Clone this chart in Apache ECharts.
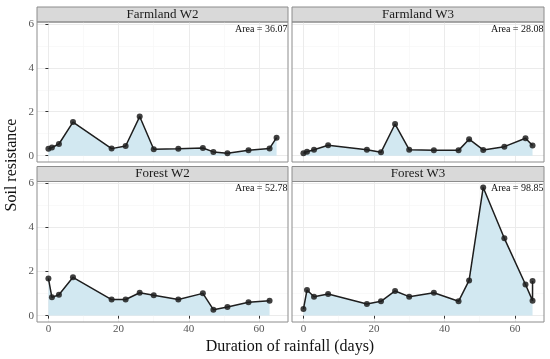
<!DOCTYPE html>
<html>
<head>
<meta charset="utf-8">
<script src="https://cdn.jsdelivr.net/npm/echarts@6/dist/echarts.min.js"></script>
<style>html,body{margin:0;padding:0;background:#fff}#c{width:550px;height:359px}</style>
</head>
<body>
<div id="c"></div>
<script>
// ---- data ----
const panelTitles = ['Farmland W2', 'Farmland W3', 'Forest W2', 'Forest W3'];
const areaLabels = ['Area = 36.07', 'Area = 28.08', 'Area = 52.78', 'Area = 98.85'];
const farmW2Days = [0, 1, 3, 7, 18, 22, 26, 30, 37, 44, 47, 51, 57, 63, 65];
const farmW2Vals = [0.31, 0.37, 0.53, 1.53, 0.32, 0.44, 1.78, 0.29, 0.31, 0.35, 0.17, 0.11, 0.25, 0.33, 0.82];
const farmW3Days = [0, 1, 3, 7, 18, 22, 26, 30, 37, 44, 47, 51, 57, 63, 65];
const farmW3Vals = [0.11, 0.18, 0.27, 0.47, 0.27, 0.15, 1.44, 0.27, 0.24, 0.24, 0.75, 0.26, 0.41, 0.79, 0.46];
const forestW2Days = [0, 1, 3, 7, 18, 22, 26, 30, 37, 44, 47, 51, 57, 63];
const forestW2Vals = [1.69, 0.83, 0.95, 1.74, 0.73, 0.73, 1.04, 0.92, 0.73, 1.01, 0.27, 0.39, 0.61, 0.68];
const forestW3Days = [0, 1, 3, 7, 18, 22, 26, 30, 37, 44, 47, 51, 57, 63, 65, 65];
const forestW3Vals = [0.30, 1.16, 0.86, 0.98, 0.53, 0.65, 1.12, 0.86, 1.04, 0.65, 1.60, 5.82, 3.51, 1.41, 0.68, 1.57];
const xTicks = [0, 20, 40, 60];
const xMinor = [10, 30, 50];
const yTicks = [0, 2, 4, 6];
const yMinor = [1, 3, 5];
const xRange = [-3.25, 68.25];
const yRange = [-0.29, 6.09];

const panelDays = [farmW2Days, farmW3Days, forestW2Days, forestW3Days];
const panelVals = [farmW2Vals, farmW3Vals, forestW2Vals, forestW3Vals];

// ---- layout ----
const grids = [
  {left: 37, top: 22, width: 251, height: 140},
  {left: 292, top: 22, width: 252, height: 140},
  {left: 37, top: 181.5, width: 251, height: 140.5},
  {left: 292, top: 181.5, width: 252, height: 140.5}
];
const FONT = '"Liberation Serif", "Times New Roman", serif';
const MAJ = '#ebebeb', MIN = '#f5f5f5', BORDER = '#8c8c8c';

const xAxes = [], yAxes = [], series = [], graphic = [];
grids.forEach((g, i) => {
  const showX = i >= 2, showY = i % 2 === 0;
  xAxes.push({
    type: 'value', gridIndex: i, min: xRange[0], max: xRange[1],
    axisLine: {show: false},
    axisTick: {show: showX, customValues: xTicks, length: 3, lineStyle: {color: '#333'}},
    axisLabel: {show: showX, customValues: xTicks, color: '#555', fontSize: 11, fontFamily: FONT, margin: 2},
    splitLine: {show: true, lineStyle: {color: MAJ, width: 1}}
  });
  xAxes.push({
    type: 'value', gridIndex: i, min: xRange[0], max: xRange[1], position: 'top',
    axisLine: {show: false},
    axisTick: {show: false, customValues: xMinor},
    axisLabel: {show: false, customValues: xMinor},
    splitLine: {show: true, lineStyle: {color: MIN, width: 0.6}}
  });
  yAxes.push({
    type: 'value', gridIndex: i, min: yRange[0], max: yRange[1],
    axisLine: {show: false},
    axisTick: {show: showY, customValues: yTicks, length: 3, lineStyle: {color: '#333'}},
    axisLabel: {show: showY, customValues: yTicks, color: '#555', fontSize: 11, fontFamily: FONT, margin: 3},
    splitLine: {show: true, lineStyle: {color: MAJ, width: 1}}
  });
  yAxes.push({
    type: 'value', gridIndex: i, min: yRange[0], max: yRange[1], position: 'right',
    axisLine: {show: false},
    axisTick: {show: false, customValues: yMinor},
    axisLabel: {show: false, customValues: yMinor},
    splitLine: {show: true, lineStyle: {color: MIN, width: 0.6}}
  });
  series.push({
    type: 'line', xAxisIndex: i * 2, yAxisIndex: i * 2,
    data: panelDays[i].map((d, k) => [d, panelVals[i][k]]),
    symbol: 'circle', symbolSize: 6,
    itemStyle: {color: '#1e1e1e', opacity: 0.85},
    lineStyle: {color: '#1e1e1e', width: 1.5},
    areaStyle: {color: '#d2e8f1', opacity: 1, origin: 0},
    emphasis: {disabled: true},
    animation: false
  });
  graphic.push({
    type: 'rect', shape: {x: g.left, y: g.top - 15, width: g.width, height: 15},
    style: {fill: '#d9d9d9', stroke: BORDER, lineWidth: 1}
  });
  graphic.push({
    type: 'text', x: g.left + g.width / 2, y: g.top - 7.5,
    style: {text: panelTitles[i], font: '13px ' + FONT, fill: '#1a1a1a',
      textAlign: 'center', textVerticalAlign: 'middle', align: 'center', verticalAlign: 'middle'}
  });
  graphic.push({
    type: 'text', x: g.left + g.width - 0.5, y: g.top + 2, z: 100,
    style: {text: areaLabels[i], font: '10px ' + FONT, fill: '#111',
      textAlign: 'right', textVerticalAlign: 'top', align: 'right', verticalAlign: 'top'}
  });
});

graphic.push({
  type: 'text', x: 290, y: 347,
  style: {text: 'Duration of rainfall (days)', font: '16px ' + FONT, fill: '#111',
    textAlign: 'center', textVerticalAlign: 'middle', align: 'center', verticalAlign: 'middle'}
});
graphic.push({
  type: 'text', x: 12, y: 165, rotation: Math.PI / 2,
  style: {text: 'Soil resistance', font: '16px ' + FONT, fill: '#111',
    textAlign: 'center', textVerticalAlign: 'middle', align: 'center', verticalAlign: 'middle'}
});

const chart = echarts.init(document.getElementById('c'), null, {renderer: 'canvas'});
chart.setOption({
  animation: false,
  grid: grids.map(g => Object.assign({show: true, borderColor: BORDER, borderWidth: 1, backgroundColor: 'transparent', z: 3}, g)),
  xAxis: xAxes,
  yAxis: yAxes,
  series: series,
  graphic: graphic
});
</script>
</body>
</html>
